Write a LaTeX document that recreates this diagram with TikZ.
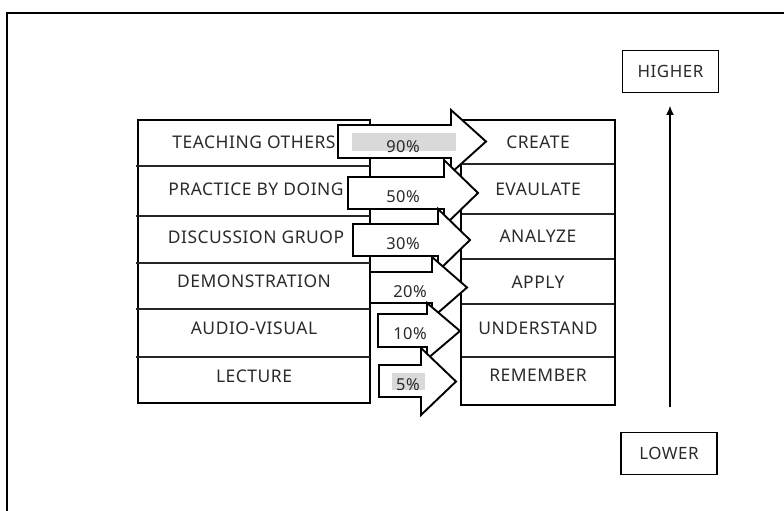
\documentclass[tikz,border=0pt]{standalone}
\usepackage{fontspec}
\setmainfont{Noto Sans}[LetterSpace=3]
\usetikzlibrary{arrows.meta}
\definecolor{txt}{HTML}{2A2A2A}
\definecolor{bar}{HTML}{D9D9D9}
\tikzset{
  frame/.style={line width=2.2bp, draw=black},
  tbl/.style={line width=1.9bp, draw=black},
  div/.style={line width=1.1bp, draw=black!85},
  lbl/.style={font=\fontsize{17.5}{19}\selectfont, text=txt, inner sep=0pt, anchor=center},
  pct/.style={font=\fontsize{16.5}{18}\selectfont, text=txt, inner sep=0pt, anchor=center},
  barfill/.style={fill=bar, draw=none},
  blk/.style={line width=1.9bp, draw=black, fill=white, line join=miter},
  lvl/.style={draw=black, line width=1.9bp, minimum width=96bp, minimum height=42bp, font=\fontsize{17}{19}\selectfont, text=txt, inner sep=0pt},
}
% block arrow: x0 shaft start, xb head base, xt tip, ys1 ys2 shaft top/bottom, yh1 yh2 head top/bottom
\newcommand\bkarrow[7]{%
  \draw[blk] (#1,#4) -- (#2,#4) -- (#2,#6) -- (#3,{(#6+#7)/2}) -- (#2,#7) -- (#2,#5) -- (#1,#5) -- cycle;}
\begin{document}
\begin{tikzpicture}[x=1bp,y=-1bp]
\useasboundingbox (0,0) rectangle (784,511);
% outer frame (only top and left edges visible)
\draw[frame] (7,512) -- (7,13) -- (785,13);

% left table
\draw[tbl] (138,120) rectangle (370,403);
\foreach \y in {166,216,263,309,357} \draw[div] (136,\y) -- (370,\y);
% right table
\draw[tbl] (461,120) rectangle (615,405);
\foreach \y in {164,214,259,304,357} \draw[div] (462,\y) -- (614,\y);

% left labels
\node[lbl] (l1) at (254,142) {TEACHING OTHERS};
\node[lbl] (l2) at (256,189) {PRACTICE BY DOING};
\node[lbl] (l3) at (256,237) {DISCUSSION GRUOP};
\node[lbl] (l4) at (254,281) {DEMONSTRATION};
\node[lbl] (l5) at (254,328) {AUDIO-VISUAL};
\node[lbl] (l6) at (254,376) {LECTURE};

% arrows
\bkarrow{338}{451}{486}{125}{158}{110}{173}
\fill[barfill] (352,133) rectangle (456,151);
\node[pct] (p1) at (403,146.5) {90\%};
\bkarrow{348}{444}{478}{177}{209}{160}{226}
\node[pct] (p2) at (403,197) {50\%};
\bkarrow{353}{438}{470}{224}{256}{209}{271}
\node[pct] (p3) at (403,244) {30\%};
\bkarrow{370}{432}{467}{272}{303}{257}{318}
\node[pct] (p4) at (410,292) {20\%};
\bkarrow{378}{427}{460}{314}{347}{303}{359}
\node[pct] (p5) at (410,334) {10\%};
\bkarrow{379}{421}{456}{365}{397}{348}{415}
\fill[barfill] (392,373) rectangle (425,390);
\node[pct] (p6) at (408,385) {5\%};

% right labels
\node[lbl] (r1) at (538,142) {CREATE};
\node[lbl] (r2) at (538,189) {EVAULATE};
\node[lbl] (r3) at (538,236) {ANALYZE};
\node[lbl] (r4) at (538,282) {APPLY};
\node[lbl] (r5) at (538,328) {UNDERSTAND};
\node[lbl] (r6) at (538,375) {REMEMBER};

% higher / lower
\node[lvl] (hi) at (670.5,71.5) {HIGHER};
\node[lvl] (lo) at (669,453.5) {LOWER};
\coordinate (up0) at (670,407);
\coordinate (up1) at (670,106);
\draw[line width=1.1bp, -{Latex[length=9bp,width=8bp]}] (up0) -- (up1);
\end{tikzpicture}
\end{document}
